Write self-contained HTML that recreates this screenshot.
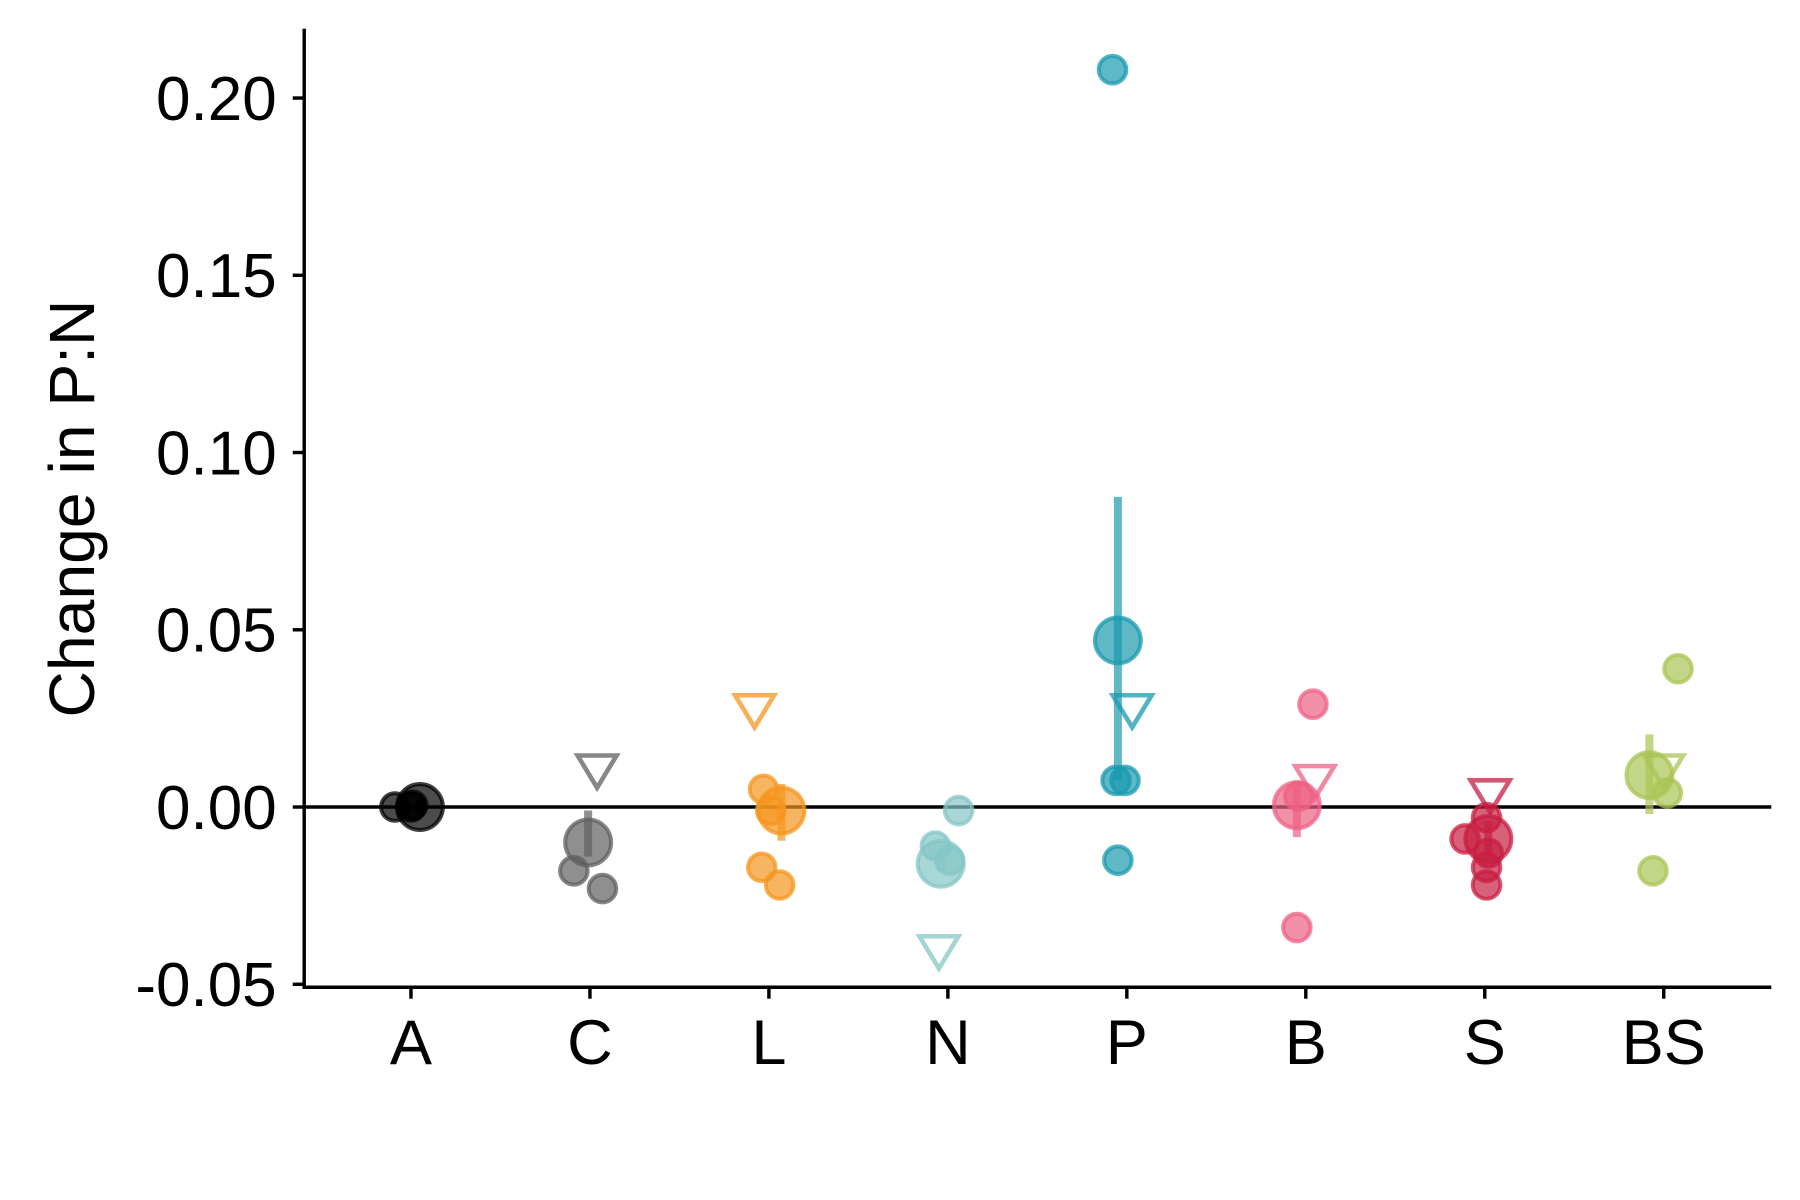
<!DOCTYPE html>
<html><head><meta charset="utf-8"><style>
html,body{margin:0;padding:0;background:#fff;}
svg{display:block;font-family:"Liberation Sans",Arial,sans-serif;}
</style></head><body>
<svg id="chart" width="1800" height="1200" viewBox="0 0 1568 1045.33" xmlns="http://www.w3.org/2000/svg"></svg>
<script>
const categories=["A","C","L","N","P","B","S","BS"];
const colors=["#000000","#5f5f5f","#f5961e","#85c6c6","#1a9aae","#ee6185","#c81e42","#a9c454"];
const meanVals=[0.0,-0.010,-0.001,-0.016,0.047,0.0005,-0.009,0.009];
const errLo=[-0.002,-0.014,-0.0095,-0.018,0.0075,-0.0085,-0.013,-0.002];
const errHi=[0.002,-0.001,0.0065,-0.013,0.0875,0.0075,-0.004,0.0205];
const triVals=[0.0,0.010,0.027,-0.041,0.027,0.007,0.003,0.010];
const pointVals=[
 [0.0,0.0,0.0005],
 [-0.018,-0.023],
 [0.005,-0.017,-0.022,-0.001],
 [-0.001,-0.011,-0.015],
 [0.208,0.0075,0.0075,-0.015],
 [0.029,-0.034,0.003],
 [-0.009,-0.003,-0.013,-0.017,-0.022],
 [0.039,0.004,-0.018]
];
const yTicks=[0.20,0.15,0.10,0.05,0.00,-0.05];
const yTickLabels=["0.20","0.15","0.10","0.05","0.00","-0.05"];
// layout (jitter in category units)
const pointJit=[[-0.09,0,0.01],[-0.09,0.07],[-0.03,-0.04,0.06,0.01],[0.06,-0.07,0.01],[-0.08,-0.06,-0.01,-0.05],[0.04,-0.05,-0.04],[-0.11,0.01,0.02,0.01,0.01],[0.08,0.02,-0.06]];
const meanJit=[0.05,-0.01,0.07,-0.04,-0.05,-0.05,0.02,-0.08];
const triJit=[0.0,0.04,-0.08,-0.05,0.03,0.05,0.03,0.0];
const L=265,R=1543,T=25,B=860;
const x=i=>358+i*155.9;
const y=v=>703-v*(154.4/0.05);
const NS="http://www.w3.org/2000/svg";
const svg=document.getElementById('chart');
function mk(t,a,p){const e=document.createElementNS(NS,t);for(const k in a)e.setAttribute(k,a[k]);(p||svg).appendChild(e);return e;}
let ya=mk('line',{x1:L,y1:T,x2:L,y2:B+1.5,stroke:'#000','stroke-width':3});


let xa=mk('line',{x1:L-1.5,y1:B,x2:R,y2:B,stroke:'#000','stroke-width':3});


yTicks.forEach((v,i)=>{
 let tk=mk('line',{x1:L-10,y1:y(v),x2:L,y2:y(v),stroke:'#000','stroke-width':3});
 
 
 let t=mk('text',{x:L-24,y:y(v)+19,'text-anchor':'end','font-size':54,fill:'#000'});
 t.textContent=yTickLabels[i];
 
 
});
categories.forEach((c,i)=>{
 let tk=mk('line',{x1:x(i),y1:B,x2:x(i),y2:B+10,stroke:'#000','stroke-width':3});
 
 
 let t=mk('text',{x:x(i),y:B+67,'text-anchor':'middle','font-size':55,fill:'#000'});
 t.textContent=c;
 
 
});
let yt=mk('text',{x:0,y:0,transform:'translate(82,443) rotate(-90)','text-anchor':'middle','font-size':56,fill:'#000'});
yt.textContent='Change in P:N';


let zl=mk('line',{x1:L,y1:y(0),x2:R,y2:y(0),stroke:'#000','stroke-width':3});


categories.forEach((c,i)=>{
 const col=colors[i];
 const g=mk('g',{});
 
 
 pointVals[i].forEach((v,j)=>{
  let p=mk('circle',{cx:x(i+pointJit[i][j]),cy:y(v),r:12,fill:col,'fill-opacity':0.7,stroke:col,'stroke-opacity':0.75,'stroke-width':3.5},g);
  
  
 });
 const mx=x(i+meanJit[i]);
 let eb=mk('line',{x1:mx,y1:y(errHi[i]),x2:mx,y2:y(errLo[i]),stroke:col,'stroke-opacity':0.7,'stroke-width':7},g);
 
 
 let m=mk('circle',{cx:mx,cy:y(meanVals[i]),r:20,fill:col,'fill-opacity':0.7,stroke:col,'stroke-opacity':0.75,'stroke-width':3.5},g);
 
 
 if(i>0){
  const tx=x(i+triJit[i]),ty=y(triVals[i]);
  let tr=mk('path',{d:`M${tx-17},${ty-14} L${tx+17},${ty-14} L${tx},${ty+14} Z`,fill:'none',stroke:col,'stroke-opacity':0.75,'stroke-width':4,'stroke-linejoin':'miter'},g);
  
  
 }
});
</script>
</body></html>
